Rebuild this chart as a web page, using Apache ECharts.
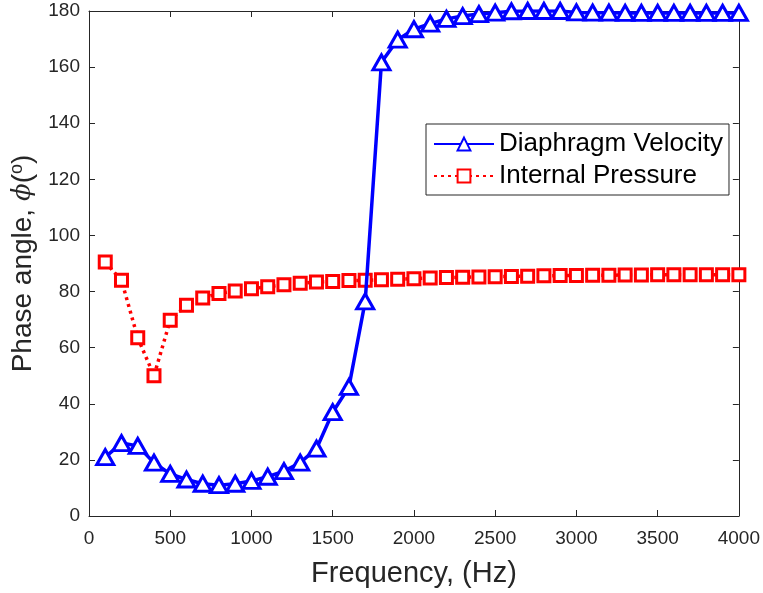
<!DOCTYPE html>
<html><head><meta charset="utf-8">
<script src="https://cdn.jsdelivr.net/npm/echarts@6/dist/echarts.min.js"></script>
<style>html,body{margin:0;padding:0;background:#fff}#c{width:763px;height:593px}</style>
</head><body><div id="c"></div>
<script>
const freq = [100,200,300,400,500,600,700,800,900,1000,1100,1200,1300,1400,1500,1600,1700,1800,1900,2000,2100,2200,2300,2400,2500,2600,2700,2800,2900,3000,3100,3200,3300,3400,3500,3600,3700,3800,3900,4000];
const diaphragmVelocity = [21,26,25,19,15,13,11.5,11,11.5,12.5,14,16,19,24,37,46,76.5,161.7,169.8,173.5,175.5,177.2,178.2,178.9,179.4,179.9,180,180,180,179.5,179.4,179.4,179.3,179.3,179.3,179.3,179.3,179.3,179.3,179.3];
const internalPressure = [90.5,84,63.5,50,69.8,75.1,77.7,79.3,80.2,81,81.7,82.4,83,83.4,83.6,83.9,84,84.2,84.4,84.6,84.8,85,85.1,85.2,85.3,85.4,85.5,85.6,85.7,85.7,85.8,85.8,85.9,85.9,86,86,86,86,86,86];
const xTicks = {min:0,max:4000,interval:500};
const yTicks = {min:0,max:180,interval:20};

const pair = (xs, ys) => xs.map((x,i)=>[x, ys[i]]);
const axisCol = '#262626';
const FONT = 'Liberation Sans, Arial, sans-serif';
const tick = {inside:true,length:6,lineStyle:{color:axisCol}};
const line = {show:true,onZero:false,lineStyle:{color:axisCol,width:1}};
const chart = echarts.init(document.getElementById('c'));
chart.setOption({
  animation:false,
  backgroundColor:'#fff',
  grid:{left:89,right:23,top:11,bottom:74},
  xAxis:[{
    type:'value', min:xTicks.min, max:xTicks.max, interval:xTicks.interval,
    name:'Frequency, (Hz)', nameLocation:'middle', nameGap:43,
    nameTextStyle:{fontSize:29,color:axisCol,fontFamily:FONT},
    axisLine:line, axisTick:tick,
    axisLabel:{fontSize:19,color:axisCol,margin:13,fontFamily:FONT,formatter:v=>String(v)},
    splitLine:{show:false}
  },{
    type:'value', position:'top', min:xTicks.min, max:xTicks.max, interval:xTicks.interval,
    axisLine:line, axisTick:tick,
    axisLabel:{show:false}, splitLine:{show:false}
  }],
  yAxis:[{
    type:'value', min:yTicks.min, max:yTicks.max, interval:yTicks.interval,
    name:'{n|Phase angle, }{i|ϕ}{n|(}{s|o}{n|)}', nameLocation:'middle', nameGap:39, nameRotate:90,
    nameTextStyle:{color:axisCol,fontFamily:FONT,
      rich:{
        n:{fontSize:28,color:axisCol,fontFamily:FONT},
        i:{fontSize:26,color:axisCol,fontStyle:'italic',fontFamily:'DejaVu Serif, Liberation Serif, serif'},
        s:{fontSize:18,color:axisCol,verticalAlign:'top',padding:[0,0,12,0],fontFamily:FONT}
      }},
    axisLine:line, axisTick:tick,
    axisLabel:{fontSize:19,color:axisCol,margin:9,fontFamily:FONT,formatter:v=>String(v)},
    splitLine:{show:false}
  },{
    type:'value', position:'right', min:yTicks.min, max:yTicks.max, interval:yTicks.interval,
    axisLine:line, axisTick:tick,
    axisLabel:{show:false}, splitLine:{show:false}
  }],
  legend:{
    left:426, top:124, orient:'vertical',
    backgroundColor:'#fff', borderColor:axisCol, borderWidth:1,
    padding:[7,6,6,7], itemGap:6, itemWidth:60, itemHeight:16,
    textStyle:{fontSize:26,color:'#000',fontFamily:FONT},
    data:[{name:'Diaphragm Velocity'},{name:'Internal Pressure'}]
  },
  series:[{
    name:'Diaphragm Velocity', type:'line', data:pair(freq, diaphragmVelocity),
    symbol:'triangle', symbolSize:[17,15], showAllSymbol:true,
    lineStyle:{color:'#0000ff',width:3.5},
    itemStyle:{color:'#fff',borderColor:'#0000ff',borderWidth:3},
    z:3
  },{
    name:'Internal Pressure', type:'line', data:pair(freq, internalPressure),
    symbol:'rect', symbolSize:12, showAllSymbol:true,
    lineStyle:{color:'#ff0000',width:3.5,type:[3,4]},
    itemStyle:{color:'#fff',borderColor:'#ff0000',borderWidth:3},
    z:2
  }]
});
</script></body></html>
